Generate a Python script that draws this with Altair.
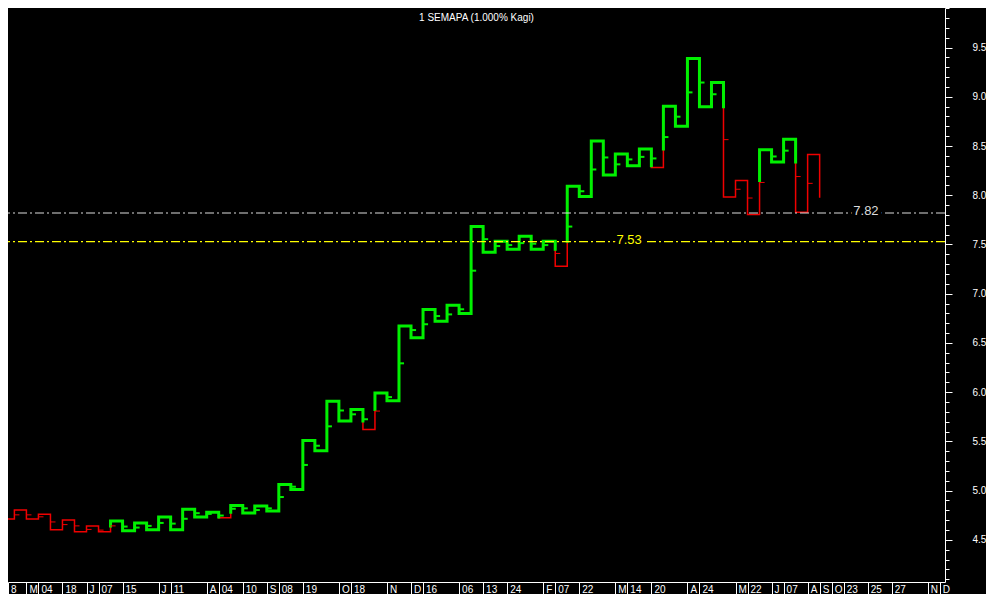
import json
import altair as alt
import pandas as pd

# ---------------- data ----------------
title_text = "1 SEMAPA (1.000% Kagi)"

# Kagi turning levels: start level, then the level each column's vertical ends at
kagi_levels = [4.711, 4.803, 4.711, 4.761, 4.602, 4.701, 4.583, 4.642, 4.583, 4.691,
               4.593, 4.672, 4.602, 4.731, 4.602, 4.810, 4.731, 4.780, 4.724, 4.850,
               4.774, 4.843, 4.794, 5.063, 5.011, 5.508, 5.406, 5.907, 5.706, 5.824,
               5.620, 5.992, 5.913, 6.671, 6.553, 6.839, 6.720, 6.882, 6.799, 7.682,
               7.422, 7.534, 7.452, 7.583, 7.452, 7.534, 7.280, 8.091, 7.988, 8.552,
               8.206, 8.420, 8.301, 8.469, 8.282, 8.904, 8.700, 9.388, 8.898, 9.145,
               7.982, 8.150, 7.804, 8.463, 8.338, 8.568, 7.827, 8.413, 7.982]

# small close marks on each column (None = no mark)
close_marks = [4.754, 4.754, 4.734, 4.682, 4.655, 4.642, 4.606, 4.599, 4.642, 4.635,
               4.625, 4.642, 4.672, 4.665, 4.714, 4.771, 4.764, 4.747, 4.816, 4.820,
               4.803, 4.820, 4.935, 5.040, 5.261, 5.456, 5.653, 5.814, 5.775, 5.725,
               5.808, 5.950, 6.293, 6.631, 6.690, 6.773, 6.790, 6.842, 7.234, 7.554,
               7.484, 7.494, 7.514, 7.508, 7.494, 7.409, 7.682, 8.041, 8.262, 8.384,
               8.314, 8.364, 8.390, 8.374, 8.591, 8.798, 9.045, 9.145, 9.026, 8.565,
               8.061, 7.972, 8.130, 8.394, 8.453, 8.190, 8.121, None]

XMIN, XMAX = -0.532, 77.43
YMIN, YMAX = 4.072, 9.902

x_label_cols = [XMIN, 1, 2, 4, 6, 7, 9, 12, 13, 16, 17, 19, 21, 22, 24, 27, 28, 31, 33, 34,
                37, 39, 41, 44, 45, 47, 50, 51, 53, 56, 57, 60, 61, 63, 64, 66, 67, 68, 69,
                71, 73, 76, 77]
x_label_text = ["8", "M", "04", "18", "J", "07", "15", "J", "11", "A", "04", "10", "S", "08",
                "19", "O", "18", "N", "D", "16", "06", "13", "24", "F", "07", "22", "M", "14",
                "20", "A", "24", "M", "22", "J", "07", "A", "S", "O", "23", "25", "27", "N", "D"]

y_tick_values = [round(4.1 + 0.1 * i, 1) for i in range(59)]

ref_values = [7.82, 7.53]
ref_text = ["7.82", "7.53"]
ref_label_cols = [69.8, 50.1]

GREEN = "#00f000"
RED = "#f00000"
REF_GREY = "#dcdcdc"
REF_YELLOW = "#ffff00"
FONT = "Liberation Sans"
W, H = 937, 574

# ---------------- build Kagi path (standard yin/yang rule) ----------------
rows = []
tick_rows = []
state = "yin"
run = 0
last_high = None
last_low = None


def add(x, y, st, r):
    rows.append({"x": x, "y": y, "state": st, "run": r, "seq": len(rows)})


add(-1, kagi_levels[0], state, run)
for i in range(len(kagi_levels) - 1):
    a, b = kagi_levels[i], kagi_levels[i + 1]
    add(i, a, state, run)
    prev_state = state
    split = None
    up = b > a
    if up and state == "yin" and last_high is not None and b > last_high:
        split = last_high
        new_state = "yang"
    if (not up) and state == "yang" and last_low is not None and b < last_low:
        split = last_low
        new_state = "yin"
    if split is not None:
        add(i, split, state, run)
        run += 1
        state = new_state
        add(i, split, state, run)
    add(i, b, state, run)
    c = close_marks[i]
    if c is not None:
        if split is None:
            st = state
        elif (up and c <= split) or ((not up) and c >= split):
            st = prev_state
        else:
            st = state
        tick_rows.append({"x": i, "x2": i + 0.42, "y": c, "state": st})
    if up:
        last_high = b
    else:
        last_low = b

path_df = pd.DataFrame(rows)
tick_df = pd.DataFrame(tick_rows)
ref_df = pd.DataFrame({"x": ref_label_cols, "y": ref_values, "text": ref_text})

# ---------------- scales / axes ----------------
xscale = alt.Scale(domain=[XMIN, XMAX], nice=False, zero=False)
yscale = alt.Scale(domain=[YMIN, YMAX], nice=False, zero=False)

major_test = "abs(datum.value*2 - round(datum.value*2)) < 0.001"
x_label_expr = "%s[indexof(%s, datum.value)]" % (json.dumps(x_label_text), json.dumps(x_label_cols))

xaxis = alt.Axis(values=x_label_cols, labelExpr=x_label_expr, title=None, grid=False,
                 tickSize=12, labelAlign="left", labelBaseline="alphabetic",
                 labelPadding=-1.5, labelOffset=2.5, labelOverlap=False, labelFlush=False,
                 labelBound=False)
yaxis = alt.Axis(values=y_tick_values, orient="right", title=None, grid=False,
                 labelExpr="%s ? format(datum.value, '.1f') : ''" % major_test,
                 tickSize=7,
                 tickDash={"condition": {"test": major_test, "value": [7, 0]}, "value": [4, 20]},
                 labelPadding=20, labelAlign="left", labelOverlap=False, labelFlush=False)

X = alt.X("x:Q", scale=xscale, axis=xaxis)
Y = alt.Y("y:Q", scale=yscale, axis=yaxis)

# ---------------- layers ----------------
yin_line = alt.Chart(path_df).transform_filter("datum.state == 'yin'").mark_line(
    color=RED, strokeWidth=1.5, clip=True, strokeJoin="miter", strokeCap="square"
).encode(x=X, y=Y, detail="run:N", order="seq:Q")

yang_line = alt.Chart(path_df).transform_filter("datum.state == 'yang'").mark_line(
    color=GREEN, strokeWidth=3, clip=True, strokeJoin="miter", strokeCap="square"
).encode(x=X, y=Y, detail="run:N", order="seq:Q")

tick_yin = alt.Chart(tick_df).transform_filter("datum.state == 'yin'").mark_rule(
    color=RED, strokeWidth=1).encode(x=X, x2="x2:Q", y=Y)

tick_yang = alt.Chart(tick_df).transform_filter("datum.state == 'yang'").mark_rule(
    color=GREEN, strokeWidth=2).encode(x=X, x2="x2:Q", y=Y)

ref_rule_grey = alt.Chart(ref_df).transform_filter("datum.text == '7.82'").mark_rule(
    strokeWidth=1.2, strokeDash=[9, 3, 2, 3], color=REF_GREY, stroke=REF_GREY,
    opacity=1).encode(y=Y)

ref_rule_yellow = alt.Chart(ref_df).transform_filter("datum.text == '7.53'").mark_rule(
    strokeWidth=1.2, strokeDash=[9, 3, 2, 3], color=REF_YELLOW, stroke=REF_YELLOW,
    opacity=1).encode(y=Y)

halo = alt.Chart(ref_df).mark_text(
    align="left", baseline="alphabetic", dy=2, font=FONT, fontSize=13,
    stroke="black", strokeWidth=8, fill="black", strokeJoin="round").encode(
    x=X, y=Y, text="text:N")

label_grey = alt.Chart(ref_df).transform_filter("datum.text == '7.82'").mark_text(
    align="left", baseline="alphabetic", dy=2, font=FONT, fontSize=13, color=REF_GREY
).encode(x=X, y=Y, text="text:N")

label_yellow = alt.Chart(ref_df).transform_filter("datum.text == '7.53'").mark_text(
    align="left", baseline="alphabetic", dy=2, font=FONT, fontSize=13, color=REF_YELLOW
).encode(x=X, y=Y, text="text:N")

chart = alt.layer(
    yin_line, yang_line, tick_yin, tick_yang, ref_rule_grey, ref_rule_yellow,
    halo, label_grey, label_yellow
).properties(
    width=W, height=H, background="black",
    padding={"left": 0, "top": 0, "right": 41, "bottom": 12},
    autosize=alt.AutoSizeParams(type="none"),
    title=alt.TitleParams(text=title_text, color="white", font=FONT, fontSize=10,
                          fontWeight="normal", anchor="middle", baseline="alphabetic",
                          offset=-28)
).configure_view(strokeWidth=0).configure_axis(
    domainColor="white", tickColor="white", labelColor="white", labelFont=FONT,
    labelFontSize=10, domainWidth=1, tickWidth=1)

chart.save("out.html", embed_options={"renderer": "svg", "actions": False})
